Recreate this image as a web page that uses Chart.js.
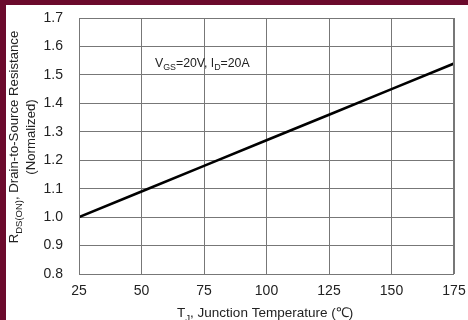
<!DOCTYPE html>
<html>
<head>
<meta charset="utf-8">
<script src="https://cdn.jsdelivr.net/npm/chart.js@4"></script>
<style>
  html, body { margin: 0; padding: 0; background: #fff; }
  #wrap { width: 468px; height: 320px; position: relative; }
</style>
</head>
<body>
<div id="wrap"><canvas id="myChart" width="468" height="320"></canvas></div>
<script>
// junction temperature (C) and normalized Rds(on)
const temps = [25, 50, 75, 100, 125, 150, 175];
const rdsNorm = [1.0, 1.09, 1.18, 1.27, 1.36, 1.45, 1.54];
const xTicks = [25, 50, 75, 100, 125, 150, 175];
const yTicks = [0.8, 0.9, 1.0, 1.1, 1.2, 1.3, 1.4, 1.5, 1.6, 1.7];

const FONT = '"Liberation Sans", Arial, sans-serif';

// draws text pieces, some as subscripts, e.g. [['V',''],['GS','sub'],...]
function drawParts(c, parts, x, y, size) {
  let cx = x;
  parts.forEach(p => {
    const sub = p[1] == 'sub';
    c.font = (sub ? size * 0.72 : size) + 'px ' + FONT;
    c.fillText(p[0], cx, sub ? y + size * 0.28 : y);
    cx += c.measureText(p[0]).width;
  });
  return cx - x;
}
function partsWidth(c, parts, size) {
  let w = 0;
  parts.forEach(p => {
    c.font = (p[1] == 'sub' ? size * 0.72 : size) + 'px ' + FONT;
    w += c.measureText(p[0]).width;
  });
  return w;
}

const frame = {
  id: 'frame',
  beforeDraw(chart) {
    const c = chart.ctx;
    c.save();
    c.fillStyle = '#fff';
    c.fillRect(0, 0, chart.width, chart.height);
    c.fillStyle = '#6b0a2c';
    c.fillRect(0, 0, chart.width, 5);
    c.fillRect(0, 0, 6, chart.height);
    c.restore();
  },
  afterDraw(chart) {
    const c = chart.ctx;
    const a = chart.chartArea;
    c.save();
    c.fillStyle = '#222';
    c.textBaseline = 'alphabetic';

    // condition label
    drawParts(c, [['V', ''], ['GS', 'sub'], ['=20V, I', ''], ['D', 'sub'], ['=20A', '']], 155, 67, 12.3);

    // x title
    drawParts(c, [['T', ''], ['J', 'sub'], [', Junction Temperature (\u2103)', '']], 177, 317, 13.5);

    // y title, two lines rotated
    const line1 = [['R', ''], ['DS(ON)', 'sub'], [', Drain-to-Source Resistance', '']];
    const line2 = [['(Normalized)', '']];
    const mid = 137;
    c.save();
    c.translate(18, mid);
    c.rotate(-Math.PI / 2);
    drawParts(c, line1, -partsWidth(c, line1, 13.2) / 2, 0, 13.2);
    c.restore();
    c.save();
    c.translate(35, mid);
    c.rotate(-Math.PI / 2);
    drawParts(c, line2, -partsWidth(c, line2, 13.2) / 2, 0, 13.2);
    c.restore();

    // plot border
    c.strokeStyle = '#777';
    c.lineWidth = 1;
    c.strokeRect(a.left + 0.5, a.top + 0.5, a.right - a.left - 1, a.bottom - a.top);
    c.restore();
  }
};

const ctx = document.getElementById('myChart');
const chart = new Chart(ctx, {
  type: 'line',
  data: {
    datasets: [{
      data: temps.map((t, i) => ({ x: t, y: rdsNorm[i] })),
      borderColor: '#000',
      borderWidth: 2.6,
      pointRadius: 0,
      tension: 0,
      fill: false
    }]
  },
  options: {
    responsive: false,
    animation: false,
    devicePixelRatio: 1,
    layout: { padding: { left: 0, right: 14, top: 18, bottom: 0 } },
    plugins: { legend: { display: false }, tooltip: { enabled: false } },
    scales: {
      x: {
        type: 'linear',
        min: 25, max: 175,
        afterBuildTicks: s => { s.ticks = xTicks.map(v => ({ value: v })); },
        afterFit: s => { s.height = 46; s.paddingLeft = 0; s.paddingRight = 0; },
        grid: { color: '#777', lineWidth: 1, drawTicks: false },
        border: { display: false },
        ticks: { color: '#222', padding: 9, maxRotation: 0, font: { family: FONT, size: 14 } }
      },
      y: {
        min: 0.8, max: 1.7,
        afterBuildTicks: s => { s.ticks = yTicks.map(v => ({ value: v })); },
        afterFit: s => { s.width = 79; s.paddingTop = 0; s.paddingBottom = 0; },
        grid: { color: '#777', lineWidth: 1, drawTicks: false },
        border: { display: false },
        ticks: { color: '#222', padding: 16, font: { family: FONT, size: 14 },
          callback: v => v.toFixed(1) }
      }
    }
  },
  plugins: [frame]
});
</script>
</body>
</html>
